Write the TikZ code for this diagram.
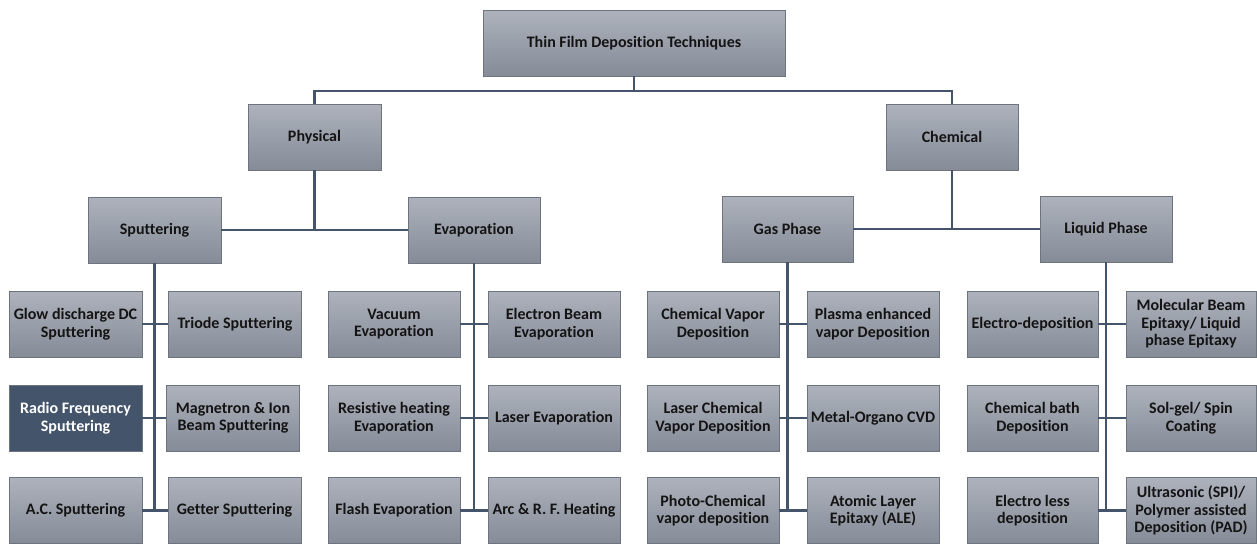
\documentclass[tikz,border=0pt]{standalone}
\usepackage{fontspec}
\setmainfont{Carlito}[Ligatures=NoCommon]
\usetikzlibrary{calc}
\definecolor{lineC}{HTML}{44546A}
\definecolor{boxTop}{HTML}{ADB2BC}
\definecolor{boxBot}{HTML}{858B97}
\definecolor{boxEdge}{HTML}{6E747E}
\definecolor{hiFill}{HTML}{44546A}
\tikzset{
  box/.style={draw=boxEdge, line width=0.8pt, top color=boxTop, bottom color=boxBot,
    minimum width=133pt, minimum height=66pt, inner sep=1pt, align=center,
    font=\fontsize{16}{17.5}\selectfont\bfseries, text=black!92},
  hibox/.style={box, top color=hiFill, bottom color=hiFill, fill=hiFill, text=white},
  conn/.style={draw=lineC, line width=2.6pt},
}
\begin{document}
\begin{tikzpicture}[x=1pt,y=-1pt]
\useasboundingbox (0,0) rectangle (1257,544);
% level 0
\node[box, minimum width=302pt] (top) at (634,43) {Thin Film Deposition Techniques};
% level 1
\node[box] (phys) at (314.5,137) {Physical};
\node[box, minimum width=132pt] (chem) at (952,137) {Chemical};
% level 2
\node[box] (sput) at (154.5,230) {Sputtering};
\node[box, minimum width=132pt] (evap) at (474,230) {Evaporation};
\node[box, minimum width=131pt] (gas) at (787.5,229) {Gas Phase};
\node[box, minimum width=132pt] (liq) at (1106,229) {Liquid Phase};
% sputtering leaves
\node[box] (glow) at (75.5,324) {Glow discharge DC\\Sputtering};
\node[box] (triode) at (235,324) {Triode Sputtering};
\node[hibox] (rf) at (75.5,418) {Radio Frequency\\Sputtering};
\node[box] (magn) at (233,418) {Magnetron \& Ion\\Beam Sputtering};
\node[box] (ac) at (75.5,510.5) {A.C. Sputtering};
\node[box] (getter) at (234.5,510.5) {Getter Sputtering};
% evaporation leaves
\node[box, minimum width=132pt] (vac) at (394,324) {Vacuum\\Evaporation};
\node[box, minimum width=132pt] (ebeam) at (554,324) {Electron Beam\\Evaporation};
\node[box, minimum width=132pt] (resist) at (394,418) {Resistive heating\\Evaporation};
\node[box, minimum width=132pt] (laser) at (554,418) {Laser Evaporation};
\node[box, minimum width=132pt] (flash) at (394,510.5) {Flash Evaporation};
\node[box, minimum width=132pt] (arc) at (554,510.5) {Arc \& R. F. Heating};
% gas phase leaves
\node[box, minimum width=132pt] (cvd) at (713,324) {Chemical Vapor\\Deposition};
\node[box, minimum width=132pt] (pecvd) at (873,324) {Plasma enhanced\\vapor Deposition};
\node[box, minimum width=132pt] (lcvd) at (713,418) {Laser Chemical\\Vapor Deposition};
\node[box, minimum width=132pt] (mocvd) at (873,418) {Metal-Organo CVD};
\node[box, minimum width=132pt] (pcvd) at (713,510.5) {Photo-Chemical\\vapor deposition};
\node[box, minimum width=132pt] (ale) at (873,510.5) {Atomic Layer\\Epitaxy (ALE)};
% liquid phase leaves
\node[box, minimum width=131pt] (electro) at (1032.5,324) {Electro-deposition};
\node[box, minimum width=130pt] (mbe) at (1191,324) {Molecular Beam\\Epitaxy/ Liquid\\phase Epitaxy};
\node[box, minimum width=131pt] (cbd) at (1032.5,418) {Chemical bath\\Deposition};
\node[box, minimum width=130pt] (solgel) at (1191,418) {Sol-gel/ Spin\\Coating};
\node[box, minimum width=131pt] (eless) at (1032.5,510.5) {Electro less\\deposition};
\node[box, minimum width=130pt] (spi) at (1191,510.5) {Ultrasonic (SPI)/\\Polymer assisted\\Deposition (PAD)};
% connectors
\coordinate (j0) at (634,91);
\draw[conn] (top.south) -- (j0);
\draw[conn] (phys.north) -- (phys.north |- j0) -- (chem.north |- j0) -- (chem.north);
\draw[conn] (phys.south) -- (phys.south |- sput.east);
\draw[conn] (sput.east) -- (evap.west);
\draw[conn] (chem.south) -- (chem.south |- gas.east);
\draw[conn] (gas.east) -- (liq.west);
% stems
\draw[conn] (sput.south) -- (sput.south |- ac.east);
\draw[conn] (evap.south) -- (evap.south |- flash.east);
\draw[conn] (gas.south) -- (gas.south |- pcvd.east);
\draw[conn] (liq.south) -- (liq.south |- eless.east);
% leaf rows
\draw[conn] (glow.east) -- (triode.west);
\draw[conn] (rf.east) -- (magn.west);
\draw[conn] (ac.east) -- (getter.west);
\draw[conn] (vac.east) -- (ebeam.west);
\draw[conn] (resist.east) -- (laser.west);
\draw[conn] (flash.east) -- (arc.west);
\draw[conn] (cvd.east) -- (pecvd.west);
\draw[conn] (lcvd.east) -- (mocvd.west);
\draw[conn] (pcvd.east) -- (ale.west);
\draw[conn] (electro.east) -- (mbe.west);
\draw[conn] (cbd.east) -- (solgel.west);
\draw[conn] (eless.east) -- (spi.west);
\end{tikzpicture}
\end{document}
